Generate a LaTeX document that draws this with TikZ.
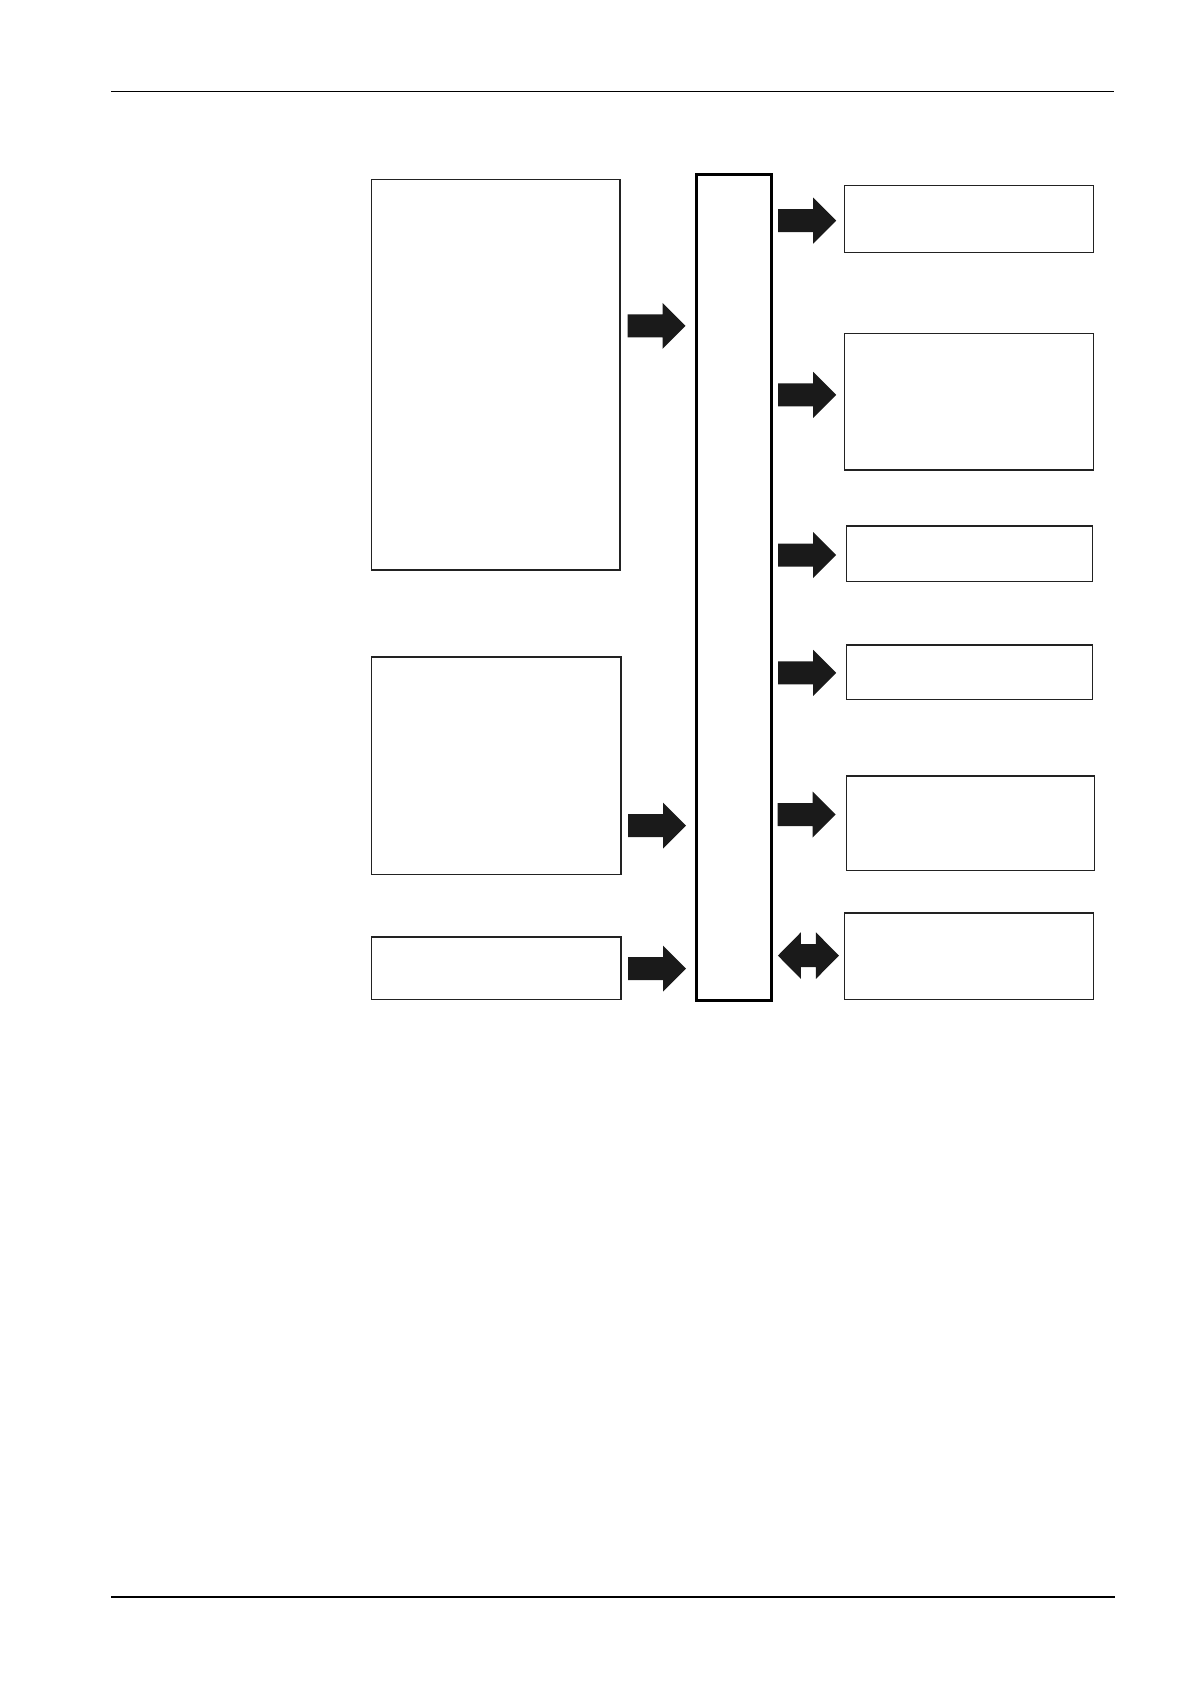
\documentclass[tikz,border=0pt]{standalone}
\usetikzlibrary{calc}
\definecolor{arrowfill}{HTML}{1A1A1A}
\definecolor{boxline}{HTML}{222222}
\begin{document}
\begin{tikzpicture}[x=1pt,y=-1pt,
  box/.style={draw=boxline,line width=1.2pt,anchor=north west,inner sep=0pt,fill=white},
  busbox/.style={draw=black,line width=2.6pt,anchor=north west,inner sep=0pt,fill=white},
  rule/.style={draw=black},
  fatarrow/.pic={\fill[arrowfill] (0,-11.5) -- (35,-11.5) -- (35,-23) -- (58,0) -- (35,23) -- (35,11.5) -- (0,11.5) -- cycle;},
  dblarrow/.pic={\fill[arrowfill] (0,0) -- (23,-23.3) -- (23,-11.5) -- (38,-11.5) -- (38,-23.3) -- (61,0) -- (38,23.3) -- (38,11.5) -- (23,11.5) -- (23,23.3) -- cycle;}]
\useasboundingbox[fill=white] (0,0) rectangle (1190,1684);
% page rules
\coordinate (tl) at (111,91.3);
\coordinate (tr) at (1114,91.3);
\coordinate (bl) at (111,1596.7);
\coordinate (br) at (1115,1596.7);
\draw[rule,line width=1.2pt] (tl) -- (tr);
\draw[rule,line width=2.2pt] (bl) -- (br);
% left boxes
\node[box,minimum width=248.6pt,minimum height=390.6pt] (big) at (370.7,178.7) {};
\node[box,minimum width=249.6pt,minimum height=217.4pt] (midl) at (370.7,656.3) {};
\node[box,minimum width=249.6pt,minimum height=62.7pt] (botl) at (370.7,936.3) {};
% central tall box
\node[busbox,minimum width=74.8pt,minimum height=825.6pt] (bus) at (695.3,173.3) {};
% right boxes
\node[box,minimum width=248.8pt,minimum height=67.3pt] (r1) at (844,184.7) {};
\node[box,minimum width=248.8pt,minimum height=136.6pt] (r2) at (844,332.7) {};
\node[box,minimum width=246.2pt,minimum height=55.4pt] (r3) at (845.7,525.3) {};
\node[box,minimum width=246.2pt,minimum height=54.7pt] (r4) at (845.7,644.3) {};
\node[box,minimum width=248pt,minimum height=94.7pt] (r5) at (846,775.3) {};
\node[box,minimum width=249pt,minimum height=86.7pt] (r6) at (843.7,912.3) {};
% arrow heights
\coordinate (ya1) at (0,325.8);
\coordinate (ya2) at (0,825.7);
\coordinate (ya3) at (0,968.7);
\coordinate (yb1) at (0,220.7);
\coordinate (yb2) at (0,394.8);
\coordinate (yb3) at (0,555);
\coordinate (yb4) at (0,672.8);
\coordinate (yb5) at (0,814.5);
\coordinate (yb6) at (0,955.6);
% arrows into the bus
\path (big.east |- ya1) ++(7,0) pic {fatarrow};
\path (midl.east |- ya2) ++(6.5,0) pic {fatarrow};
\path (botl.east |- ya3) ++(6.5,0) pic {fatarrow};
% arrows out of the bus
\path (bus.east |- yb1) ++(5.5,0) pic {fatarrow};
\path (bus.east |- yb2) ++(5.5,0) pic {fatarrow};
\path (bus.east |- yb3) ++(5.5,0) pic {fatarrow};
\path (bus.east |- yb4) ++(5.5,0) pic {fatarrow};
\path (bus.east |- yb5) ++(5,0) pic {fatarrow};
\path (bus.east |- yb6) ++(5.2,0) pic {dblarrow};
\end{tikzpicture}
\end{document}
